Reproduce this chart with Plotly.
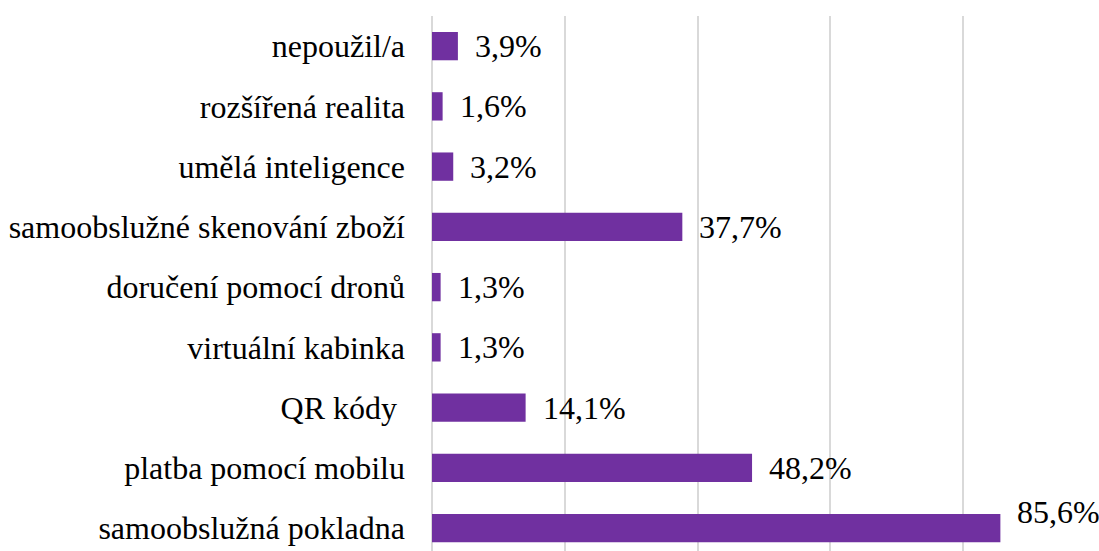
import plotly.graph_objects as go

# categories bottom -> top
categories = ["samoobslužná pokladna", "platba pomocí mobilu", "QR kódy\u00a0",
              "virtuální kabinka", "doručení pomocí dronů", "samoobslužné skenování zboží",
              "umělá inteligence", "rozšířená realita", "nepoužil/a"]
values = [85.6, 48.2, 14.1, 1.3, 1.3, 37.7, 3.2, 1.6, 3.9]
labels = [f"{v:.1f}%".replace(".", ",") for v in values]

bar_colour = "#7030A0"
font_family = "Liberation Serif, Times New Roman, serif"
font_size = 32

fig = go.Figure(go.Bar(
    x=values,
    y=categories,
    orientation="h",
    marker=dict(color=bar_colour, line=dict(width=0)),
    hoverinfo="skip",
))

# value labels to the right of each bar, the longest one lifted a bit
annotations = []
max_v = max(values)
for cat, v, lab in zip(categories, values, labels):
    annotations.append(dict(
        x=v, y=cat, text=lab, showarrow=False,
        xanchor="left", yanchor="middle",
        xshift=15, yshift=16 if v == max_v else 0,
        font=dict(family=font_family, size=font_size, color="#000000"),
    ))

fig.update_layout(
    width=1099, height=551,
    margin=dict(l=432, r=3, t=16, b=0, pad=0),
    paper_bgcolor="white", plot_bgcolor="white",
    bargap=0.53,
    showlegend=False,
    font=dict(family=font_family, size=font_size, color="#000000"),
    annotations=annotations,
    xaxis=dict(range=[0, 100], dtick=20, showticklabels=False, showgrid=True,
               gridcolor="#d9d9d9", gridwidth=2, zeroline=True, zerolinecolor="#d9d9d9",
               zerolinewidth=2, showline=False, ticks=""),
    yaxis=dict(type="category", categoryorder="array", categoryarray=categories,
               range=[-0.38, 8.5], showgrid=False, showline=False, ticks="",
               ticklabelstandoff=26, automargin=False),
)

fig.write_html("out.html", config={"displayModeBar": False},
               post_script="document.body.style.margin='0';")
